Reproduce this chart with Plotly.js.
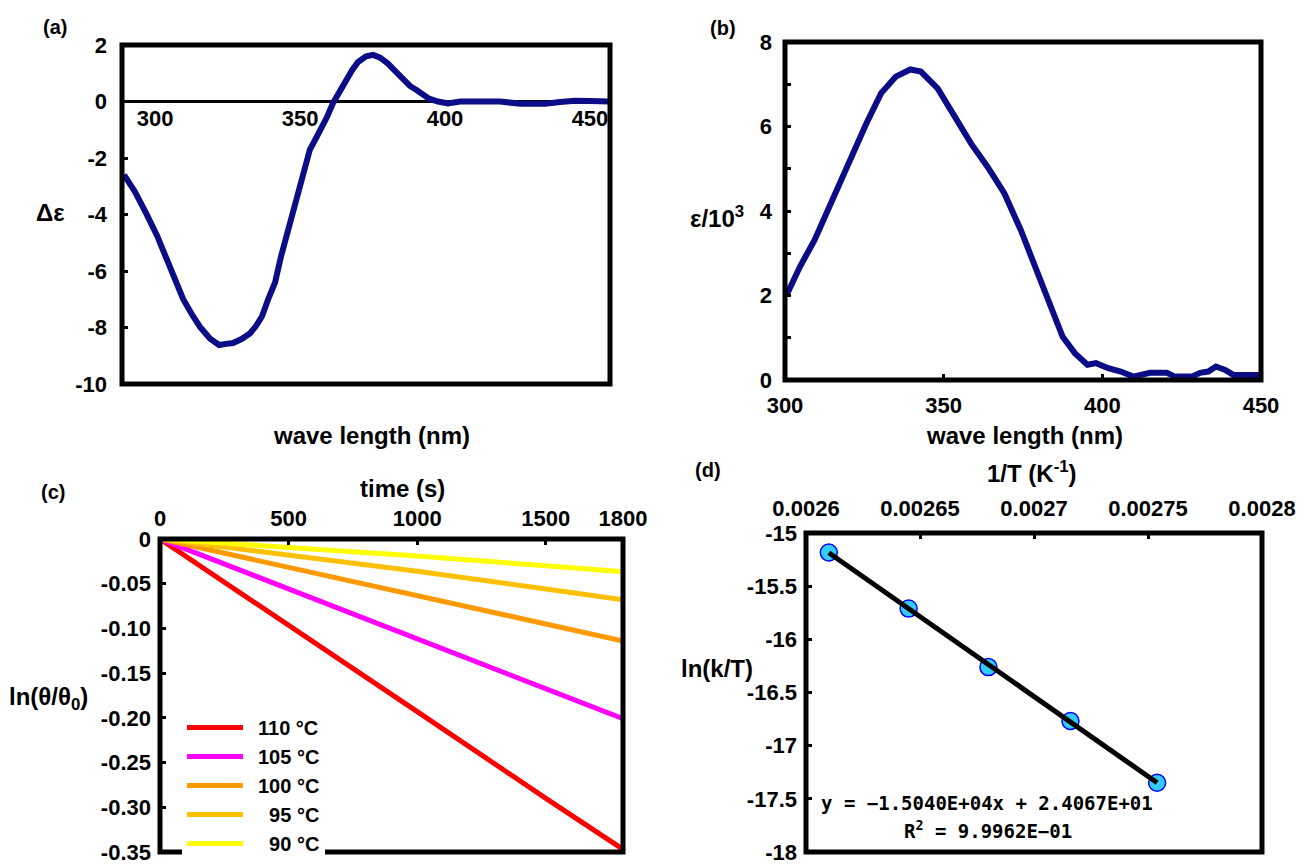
<!DOCTYPE html>
<html>
<head>
<meta charset="utf-8">
<script src="https://cdn.plot.ly/plotly-3.0.1.min.js"></script>
<style>html,body{margin:0;padding:0;background:#fff;}#chart{width:1308px;height:865px;}</style>
</head>
<body>
<div id="chart"></div>
<script>
// ---------- Panel (a): CD spectrum ----------
const waveA = [289.3,293.1,296.9,300.7,304.1,306.9,309.7,312.8,315.5,319.0,322.1,324.5,326.9,330.0,332.8,334.8,336.9,339.0,341.4,343.4,345.7,347.9,350.0,351.7,353.4,355.5,357.2,359.3,361.4,363.8,365.9,367.9,370.0,372.8,375.2,377.6,380.2,383.1,385.9,387.9,390.3,392.4,394.5,397.6,401.0,405.2,419.0,425.9,434.5,439.7,444.8,450.0,456.6];
const deltaEps = [-2.6,-3.2,-3.95,-4.75,-5.6,-6.3,-7.0,-7.55,-7.98,-8.4,-8.62,-8.58,-8.55,-8.4,-8.2,-7.95,-7.6,-7.0,-6.4,-5.5,-4.65,-3.8,-3.0,-2.3,-1.7,-1.3,-1.0,-0.55,-0.05,0.4,0.75,1.1,1.4,1.6,1.65,1.55,1.35,1.05,0.75,0.55,0.4,0.25,0.1,0.0,-0.07,0.0,0.0,-0.08,-0.08,-0.02,0.03,0.02,0.0];
const tickValsA_y = [-10,-8,-6,-4,-2,0,2];
const tickTextA_y = ["-10","-8","-6","-4","-2","0","2"];
const tickValsA_x = [300,350,400,450];
const tickTextA_x = ["300","350","400","450"];

// ---------- Panel (b): UV spectrum ----------
const waveB = [300.5,304.7,309.3,313.9,317.9,321.8,325.7,330.3,334.9,339.5,342.8,348.1,353.3,358.6,363.8,369.1,374.3,378.9,383.5,387.5,391.4,395.3,398.0,401.9,405.8,409.8,415.0,420.3,422.9,428.2,430.8,433.4,435.8,438.7,441.3,449.8];
const epsB = [2.01,2.68,3.31,4.10,4.73,5.37,6.08,6.79,7.18,7.35,7.30,6.90,6.23,5.60,5.05,4.42,3.55,2.68,1.73,1.02,0.63,0.36,0.40,0.28,0.20,0.08,0.17,0.17,0.08,0.08,0.17,0.20,0.32,0.24,0.12,0.12];
const tickValsB_x = [300,350,400,450];
const tickTextB_x = ["300","350","400","450"];
const tickValsB_y = [0,2,4,6,8];
const tickTextB_y = ["0","2","4","6","8"];

// ---------- Panel (c): kinetics ----------
const timeC = [0,500,1000,1500,1800];
const ln110 = [0,-0.096,-0.193,-0.290,-0.347];
const ln105 = [0,-0.056,-0.112,-0.168,-0.201];
const ln100 = [0,-0.032,-0.063,-0.095,-0.114];
const ln95  = [0,-0.018,-0.036,-0.056,-0.068];
const ln90  = [0,-0.009,-0.019,-0.030,-0.0365];
const seriesNamesC = ["110 °C","105 °C","100 °C","\u200795 °C","\u200790 °C"];
const seriesColorsC = ["#ff0000","#ff00ff","#ff9900","#ffc000","#ffff00"];
const tickValsC_x = [0,500,1000,1500,1800];
const tickTextC_x = ["0","500","1000","1500","1800"];
const tickValsC_y = [-0.35,-0.30,-0.25,-0.20,-0.15,-0.10,-0.05,0];
const tickTextC_y = ["-0.35","-0.30","-0.25","-0.20","-0.15","-0.10","-0.05","0"];

// ---------- Panel (d): Eyring plot ----------
const invT = [0.002610,0.002645,0.002680,0.002716,0.002754];
const lnkT = [-15.184,-15.711,-16.261,-16.768,-17.349];
const fitX = [0.002610,0.002754];
const fitY = [-15.186,-17.349];
const tickValsD_x = [0.0026,0.00265,0.0027,0.00275,0.0028];
const tickTextD_x = ["0.0026","0.00265","0.0027","0.00275","0.0028"];
const tickValsD_y = [-18,-17.5,-17,-16.5,-16,-15.5,-15];
const tickTextD_y = ["-18","-17.5","-17","-16.5","-16","-15.5","-15"];

const W = 1308, H = 865;
const px = v => v / W;
const py = v => 1 - v / H;
const FONT = "Liberation Sans, Arial, sans-serif";
const navy = "#0c0c86";
const bold = arr => arr.map(t => '<b>' + t + '</b>');

const traces = [
  {x: waveA, y: deltaEps, type: 'scatter', mode: 'lines', line: {color: navy, width: 6}, xaxis: 'x', yaxis: 'y', showlegend: false},
  {x: waveB, y: epsB, type: 'scatter', mode: 'lines', line: {color: navy, width: 6}, xaxis: 'x2', yaxis: 'y2', showlegend: false}
];
const cSeries = [ln110, ln105, ln100, ln95, ln90];
cSeries.forEach((s, i) => traces.push({
  x: timeC, y: s, type: 'scatter', mode: 'lines', name: '<b>\u2002' + seriesNamesC[i] + '</b>',
  line: {color: seriesColorsC[i], width: 5}, xaxis: 'x3', yaxis: 'y3'
}));
traces.push({x: invT, y: lnkT, type: 'scatter', mode: 'markers', showlegend: false,
  marker: {size: 17, color: '#33ccff', line: {color: '#0000ff', width: 1.5}}, xaxis: 'x4', yaxis: 'y4'});
traces.push({x: fitX, y: fitY, type: 'scatter', mode: 'lines', showlegend: false,
  line: {color: '#000000', width: 5}, xaxis: 'x4', yaxis: 'y4'});

const tickBase = {showgrid: false, zeroline: false, showline: false, ticks: 'inside', ticklen: 6, tickwidth: 3, tickcolor: '#000',
  ticklabeloverflow: 'allow', tickfont: {family: FONT, size: 22, color: '#000', weight: 700}};

const layout = {
  width: W, height: H, margin: {l: 0, r: 0, t: 0, b: 0}, paper_bgcolor: '#fff', plot_bgcolor: 'rgba(0,0,0,0)',
  font: {family: FONT, size: 22, color: '#000', weight: 700},
  showlegend: true,
  legend: {x: px(182), y: py(708), xanchor: 'left', yanchor: 'top', bgcolor: '#fff', borderwidth: 0, itemwidth: 56,
    font: {family: FONT, size: 20, color: '#000', weight: 700}, tracegroupgap: 0},
  xaxis: Object.assign({}, tickBase, {domain: [px(122), px(610)], range: [288.6, 456.9], anchor: 'free', position: py(101),
    tickvals: tickValsA_x, ticktext: bold(tickTextA_x), ticks: '', ticklabelstandoff: 2}),
  yaxis: Object.assign({}, tickBase, {domain: [py(384), py(45)], range: [-10, 2], anchor: 'x', tickvals: tickValsA_y, ticktext: bold(tickTextA_y),
    zeroline: true, zerolinewidth: 3, zerolinecolor: '#000', ticklabelstandoff: 14}),
  xaxis2: Object.assign({}, tickBase, {domain: [px(785), px(1261)], range: [300, 450], anchor: 'y2', tickvals: tickValsB_x, ticktext: bold(tickTextB_x), ticklabelstandoff: 10}),
  yaxis2: Object.assign({}, tickBase, {domain: [py(380), py(42)], range: [0, 8], anchor: 'x2', tickvals: tickValsB_y, ticktext: bold(tickTextB_y), ticklabelstandoff: 12,
    minor: {dtick: 1, tick0: 0, ticks: 'inside', ticklen: 6, tickwidth: 3, tickcolor: '#000', showgrid: false}}),
  xaxis3: Object.assign({}, tickBase, {domain: [px(160), px(623)], range: [0, 1800], anchor: 'y3', side: 'top', tickvals: tickValsC_x, ticktext: bold(tickTextC_x), ticklabelstandoff: 8}),
  yaxis3: Object.assign({}, tickBase, {domain: [py(852), py(539)], range: [-0.35, 0], anchor: 'x3', tickvals: tickValsC_y, ticktext: bold(tickTextC_y), ticklabelstandoff: 8}),
  xaxis4: Object.assign({}, tickBase, {domain: [px(806), px(1262)], range: [0.0026, 0.0028], anchor: 'y4', side: 'top', tickvals: tickValsD_x, ticktext: bold(tickTextD_x), ticklabelstandoff: 12}),
  yaxis4: Object.assign({}, tickBase, {domain: [py(852), py(533)], range: [-18, -15], anchor: 'x4', tickvals: tickValsD_y, ticktext: bold(tickTextD_y), ticklabelstandoff: 8}),
  shapes: [['x','y'],['x2','y2'],['x3','y3'],['x4','y4']].map(([a,b]) => ({type: 'rect', xref: a + ' domain', yref: b + ' domain',
    x0: 0, x1: 1, y0: 0, y1: 1, line: {color: '#000', width: 5}, layer: 'above'})),
  annotations: []
};

function note(text, x, y, size, extra) {
  layout.annotations.push(Object.assign({text: '<b>' + text + '</b>', xref: 'paper', yref: 'paper', x: px(x), y: py(y), xanchor: 'center', yanchor: 'middle',
    showarrow: false, font: {family: FONT, size: size, color: '#000', weight: 700}}, extra || {}));
}
note('(a)', 55, 27, 20);
note('(b)', 723, 28, 20);
note('(c)', 53, 492, 20);
note('(d)', 708, 470, 20);
note('Δε', 50, 213, 24);
note('wave length (nm)', 371, 435, 24);
note('ε/10<sup>3</sup>', 717, 217, 24);
note('wave length (nm)', 1024, 435, 24);
note('time (s)', 402, 488, 24);
note('ln(θ/θ<sub>0</sub>)', 48, 698, 24);
note('1/T (K<sup>-1</sup>)', 1032, 472, 24);
note('ln(k/T)', 717, 668, 24);
const monoFont = {family: 'DejaVu Sans Mono, Liberation Mono, monospace', size: 19, color: '#000', weight: 700};
note('y = −1.5040E+04x + 2.4067E+01', 987, 803, 19, {font: monoFont});
note('R<sup>2</sup> = 9.9962E−01', 988, 830, 19, {font: monoFont});

Plotly.newPlot('chart', traces, layout, {staticPlot: true, displayModeBar: false});
</script>
</body>
</html>
